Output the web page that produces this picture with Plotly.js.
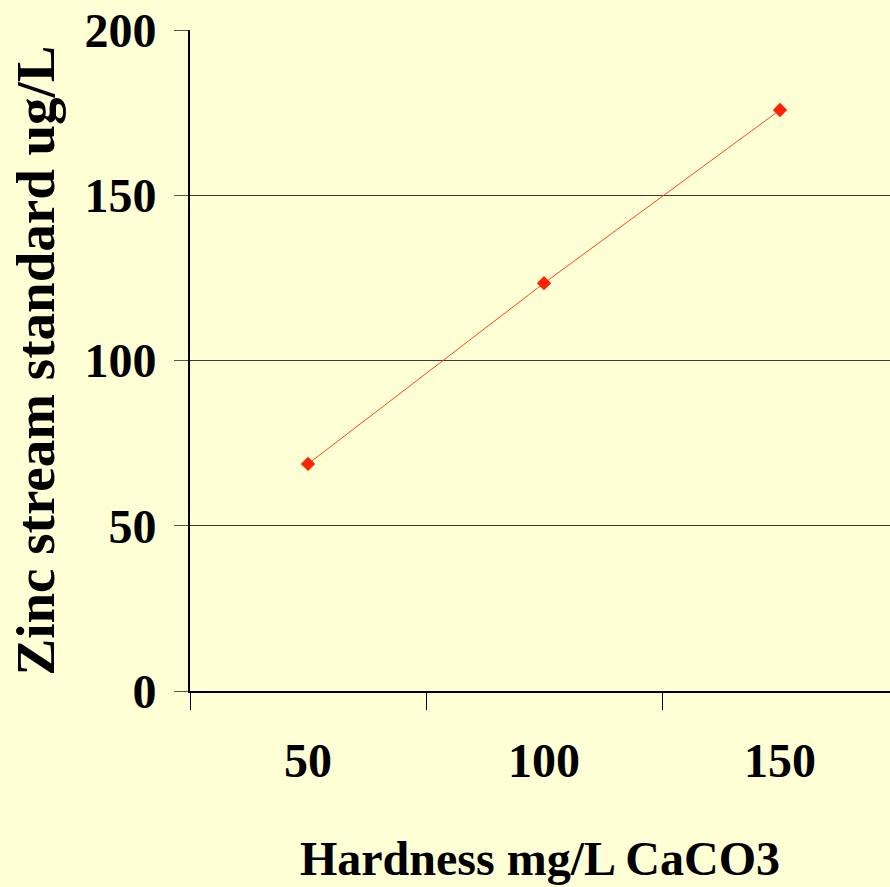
<!DOCTYPE html>
<html>
<head>
<meta charset="utf-8">
<script src="https://cdn.plot.ly/plotly-3.0.1.min.js"></script>
<style>html,body{margin:0;padding:0;background:#FFFFD5;}</style>
</head>
<body>
<div id="chart" style="width:890px;height:887px;"></div>
<script>
const hardness = ["50", "100", "150"];
const zincStandard = [68.7, 123.4, 175.8];
const yTicks = [0, 50, 100, 150, 200];

const FONT = "'Liberation Serif', 'Times New Roman', serif";

const trace = {
  type: 'scatter',
  mode: 'lines+markers',
  x: hardness,
  y: zincStandard,
  line: {color: '#FF4422', width: 1},
  marker: {symbol: 'diamond', size: 11, color: '#FF2200'},
  cliponaxis: false,
  showlegend: false
};

const layout = {
  width: 890,
  height: 887,
  paper_bgcolor: '#FFFFD5',
  plot_bgcolor: '#FFFFD5',
  margin: {l: 190, r: 0, t: 30, b: 196},
  font: {family: FONT, color: '#000', size: 48, weight: 'bold'},
  xaxis: {
    type: 'category',
    range: [-0.5, 2.466],
    tickson: 'boundaries',
    ticks: 'outside',
    ticklen: 17,
    tickwidth: 1,
    tickcolor: '#000',
    showgrid: false,
    showline: true,
    linecolor: '#000',
    linewidth: 2,
    zeroline: false,
    ticklabelstandoff: 26,
    tickfont: {family: FONT, size: 48, weight: 'bold', color: '#000'},
    title: {text: 'Hardness mg/L CaCO3', font: {family: FONT, size: 48, weight: 'bold', color: '#000'}, standoff: 56},
    automargin: false,
    fixedrange: true
  },
  yaxis: {
    range: [0, 200],
    tickvals: yTicks,
    ticktext: yTicks.map(String),
    ticks: 'outside',
    ticklen: 14,
    tickwidth: 1,
    tickcolor: '#555',
    showgrid: true,
    gridcolor: '#3a3a3a',
    gridwidth: 1.2,
    showline: true,
    linecolor: '#000',
    linewidth: 2,
    zeroline: false,
    ticklabelstandoff: 8,
    tickfont: {family: FONT, size: 48, weight: 'bold', color: '#000'},
    title: {text: 'Zinc stream standard ug/L', font: {family: FONT, size: 55, weight: 'bold', color: '#000'}, standoff: 12},
    automargin: false,
    fixedrange: true
  }
};

Plotly.newPlot('chart', [trace], layout, {displayModeBar: false, staticPlot: true});
</script>
</body>
</html>
